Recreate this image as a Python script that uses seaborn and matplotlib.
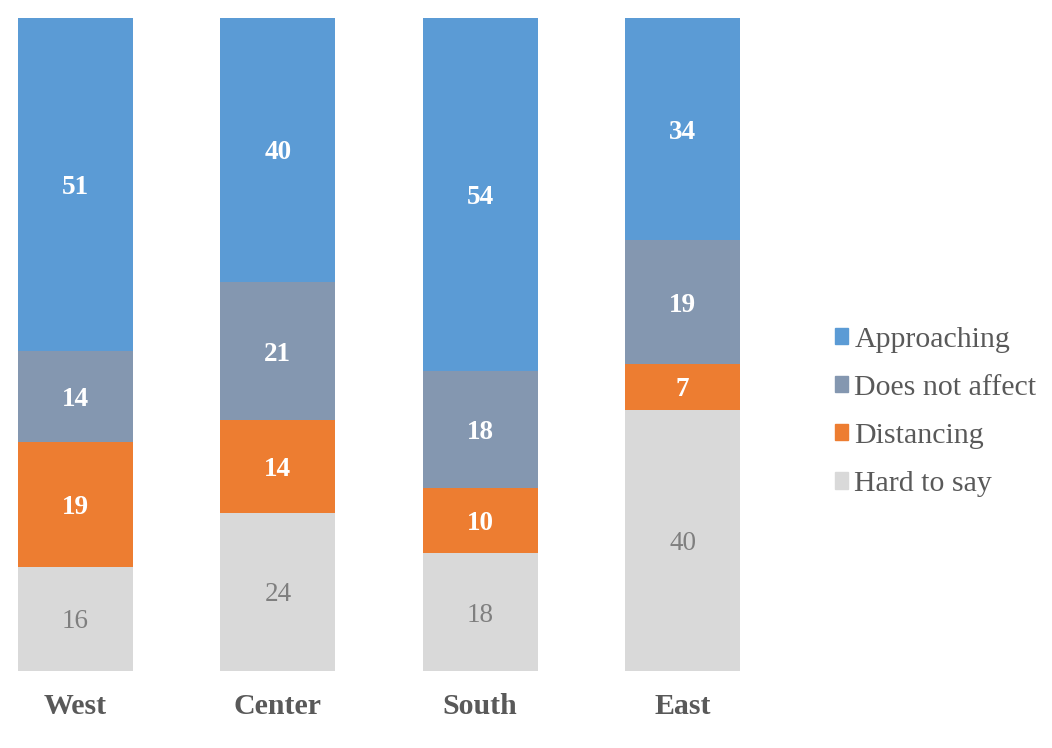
import numpy as np
import pandas as pd
import seaborn as sns
import matplotlib.pyplot as plt
from matplotlib.patches import Patch

sns.set_theme(style='white')
plt.rcParams['font.family'] = ['Liberation Serif', 'DejaVu Serif']

regions = ['West', 'Center', 'South', 'East']
series = ['Hard to say', 'Distancing', 'Does not affect', 'Approaching']
hard_to_say = [16, 24, 18, 40]
distancing = [19, 14, 10, 7]
does_not_affect = [14, 21, 18, 19]
approaching = [51, 40, 54, 34]

colors = {'Approaching': '#5B9BD5', 'Does not affect': '#8497B0',
          'Distancing': '#ED7D31', 'Hard to say': '#D9D9D9'}

df = pd.DataFrame({'region': regions, 'Hard to say': hard_to_say,
                   'Distancing': distancing, 'Does not affect': does_not_affect,
                   'Approaching': approaching})
totals = df[series].sum(axis=1)

fig = plt.figure(figsize=(10.52, 7.48), dpi=100)
ax = fig.add_axes([18 / 1052, 1 - 671 / 748, (740 - 18) / 1052, (671 - 18) / 748])

bottom = np.zeros(len(regions))
for s in series:
    share = (df[s] / totals * 100).values
    sns.barplot(x=df['region'], y=share, bottom=bottom, color=colors[s],
                width=0.568, ax=ax, saturation=1, linewidth=0)
    for i, (v, b) in enumerate(zip(df[s], bottom)):
        if s == 'Hard to say':
            ax.text(i, b + share[i] / 2, str(v), ha='center', va='center_baseline',
                    fontsize=19.5, color='#7F7F7F')
        else:
            ax.text(i, b + share[i] / 2, str(v), ha='center', va='center_baseline',
                    fontsize=19.5, color='white', fontweight='bold')
    bottom += share

ax.set_xlim(-0.284, 3.284)
ax.set_ylim(0, 100)
ax.set_xlabel('')
ax.set_ylabel('')
ax.set_yticks([])
ax.tick_params(axis='x', length=0, pad=16)
for lbl in ax.get_xticklabels():
    lbl.set_fontsize(21.5)
    lbl.set_fontweight('bold')
    lbl.set_color('#595959')
sns.despine(ax=ax, left=True, bottom=True)

handles = [Patch(color=colors[s], label=s) for s in series[::-1]]
fig.legend(handles=handles, loc='center left', bbox_to_anchor=(808 / 1052, 1 - 412 / 748),
           frameon=False, fontsize=21.5, labelcolor='#595959', handlelength=0.45,
           handleheight=0.45, handletextpad=0.2, labelspacing=0.74)

fig.savefig('out.png', dpi=100)
